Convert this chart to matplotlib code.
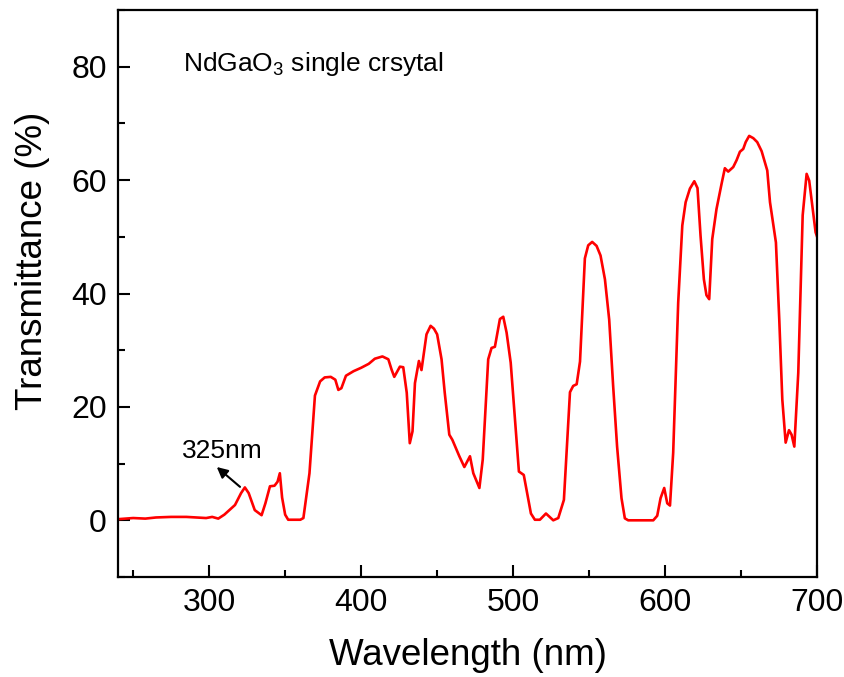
import matplotlib
matplotlib.use('Agg')
import matplotlib.pyplot as plt
from matplotlib.ticker import MultipleLocator

plt.rcParams['font.family'] = ['Liberation Sans', 'DejaVu Sans']
plt.rcParams['mathtext.fontset'] = 'custom'
plt.rcParams['mathtext.rm'] = 'Liberation Sans'
plt.rcParams['mathtext.default'] = 'regular'

# Dane: długość fali (nm) i transmitancja (%)
wavelength = [
    240, 250, 258, 265, 275, 285, 292, 298, 302, 306,
    310, 317, 321, 323.5, 326, 330, 334.5, 337, 340, 343,
    345, 346.5, 348, 350, 352, 360, 362, 366, 369.6, 373,
    376, 380, 383, 385, 387, 390, 395, 400, 405, 409,
    414, 417.9, 420, 421.8, 425.5, 427.7, 430, 432, 433.8, 435.4,
    438, 439.7, 443, 445.7, 447.9, 450, 452.9, 455, 458, 460,
    464.6, 467.9, 471.6, 473.8, 477.8, 480, 483.6, 485.8, 488, 491.3,
    493.5, 495.7, 498.4, 501.2, 503.8, 507, 508.8, 511.7, 514.3, 517.6,
    521.6, 526.4, 529.7, 533.4, 537.4, 539.5, 541.8, 544, 547.2, 549.4,
    552, 554.9, 557.5, 560.4, 563.2, 565.8, 568.4, 571.3, 573.5, 575.7,
    592.2, 594.8, 597, 599.4, 601.4, 603.2, 605.3, 608.6, 611.3, 613.5,
    616.3, 619.2, 621.3, 623.3, 625.5, 627.2, 629, 631, 633.8, 637.1,
    639.3, 641.5, 644.8, 647, 649.2, 651.4, 653, 655.3, 658, 660.6,
    663.5, 667.2, 669, 672.9, 675.1, 677.1, 679.3, 681.5, 683.2, 685,
    687.6, 690.5, 693.1, 694.8, 699, 700,
]
transmittance = [
    0.2, 0.4, 0.3, 0.5, 0.6, 0.6, 0.5, 0.4, 0.6, 0.3,
    1.0, 2.7, 4.8, 5.8, 4.8, 1.8, 0.9, 3.0, 6.0, 6.1,
    6.8, 8.3, 4.0, 1.0, 0.1, 0.1, 0.4, 8.3, 22.0, 24.5,
    25.2, 25.3, 24.8, 23.0, 23.3, 25.5, 26.3, 26.9, 27.6, 28.5,
    28.9, 28.4, 26.6, 25.3, 27.1, 27.0, 22.5, 13.6, 15.7, 24.2,
    28.1, 26.5, 32.8, 34.3, 33.8, 32.8, 28.4, 22.5, 15.1, 14.2,
    11.3, 9.4, 11.3, 8.3, 5.7, 10.7, 28.4, 30.4, 30.6, 35.5,
    35.9, 33.1, 27.8, 17.8, 8.6, 8.0, 5.4, 1.2, 0.1, 0.1,
    1.2, 0.0, 0.4, 3.6, 22.6, 23.7, 24.0, 28.0, 46.2, 48.5,
    49.1, 48.4, 46.7, 42.5, 35.4, 23.7, 13.0, 3.9, 0.35, 0.0,
    0.0, 0.8, 3.9, 5.7, 3.0, 2.6, 11.9, 38.4, 52.0, 56.1,
    58.5, 59.8, 58.6, 50.2, 42.5, 39.7, 39.0, 49.6, 54.9, 59.3,
    62.1, 61.5, 62.3, 63.5, 65.0, 65.5, 66.7, 67.8, 67.4, 66.7,
    65.1, 61.7, 56.1, 49.0, 35.4, 21.3, 13.7, 15.9, 15.1, 13.0,
    26.0, 53.8, 61.1, 59.9, 50.8, 50.0,
]

fig = plt.figure(figsize=(8.45, 6.77), dpi=100)
ax = fig.add_axes([0.1396, 0.1477, 0.8274, 0.8375])

# Krzywa transmitancji
ax.plot(wavelength, transmittance, color='red', linewidth=1.9)

ax.set_xlim(240, 700)
ax.set_ylim(-10, 90)
ax.xaxis.set_major_locator(MultipleLocator(100))
ax.xaxis.set_minor_locator(MultipleLocator(50))
ax.yaxis.set_major_locator(MultipleLocator(20))
ax.yaxis.set_minor_locator(MultipleLocator(10))

ax.tick_params(which='both', direction='in', width=1.5, labelsize=23,
               top=False, right=False, pad=8)
ax.tick_params(which='major', length=8.5)
ax.tick_params(which='minor', length=5)
for s in ax.spines.values():
    s.set_linewidth(1.6)

ax.set_xlabel('Wavelength (nm)', fontsize=26.5, labelpad=14)
ax.set_ylabel('Transmittance (%)', fontsize=26.5)
ax.yaxis.set_label_coords(-0.097, 0.557)

# Opis próbki i strzałka do piku 325 nm
ax.text(282.8, 80.5, 'NdGaO$_3$ single crsytal', fontsize=19, va='center')
ax.annotate('', xy=(305, 9.4), xytext=(320.3, 5.9),
            arrowprops=dict(arrowstyle='-|>', color='k', lw=1.5,
                            mutation_scale=16, shrinkA=0, shrinkB=0))
ax.text(309, 12.2, '325nm', fontsize=19, ha='center', va='center')

fig.savefig('out.png', dpi=100)
